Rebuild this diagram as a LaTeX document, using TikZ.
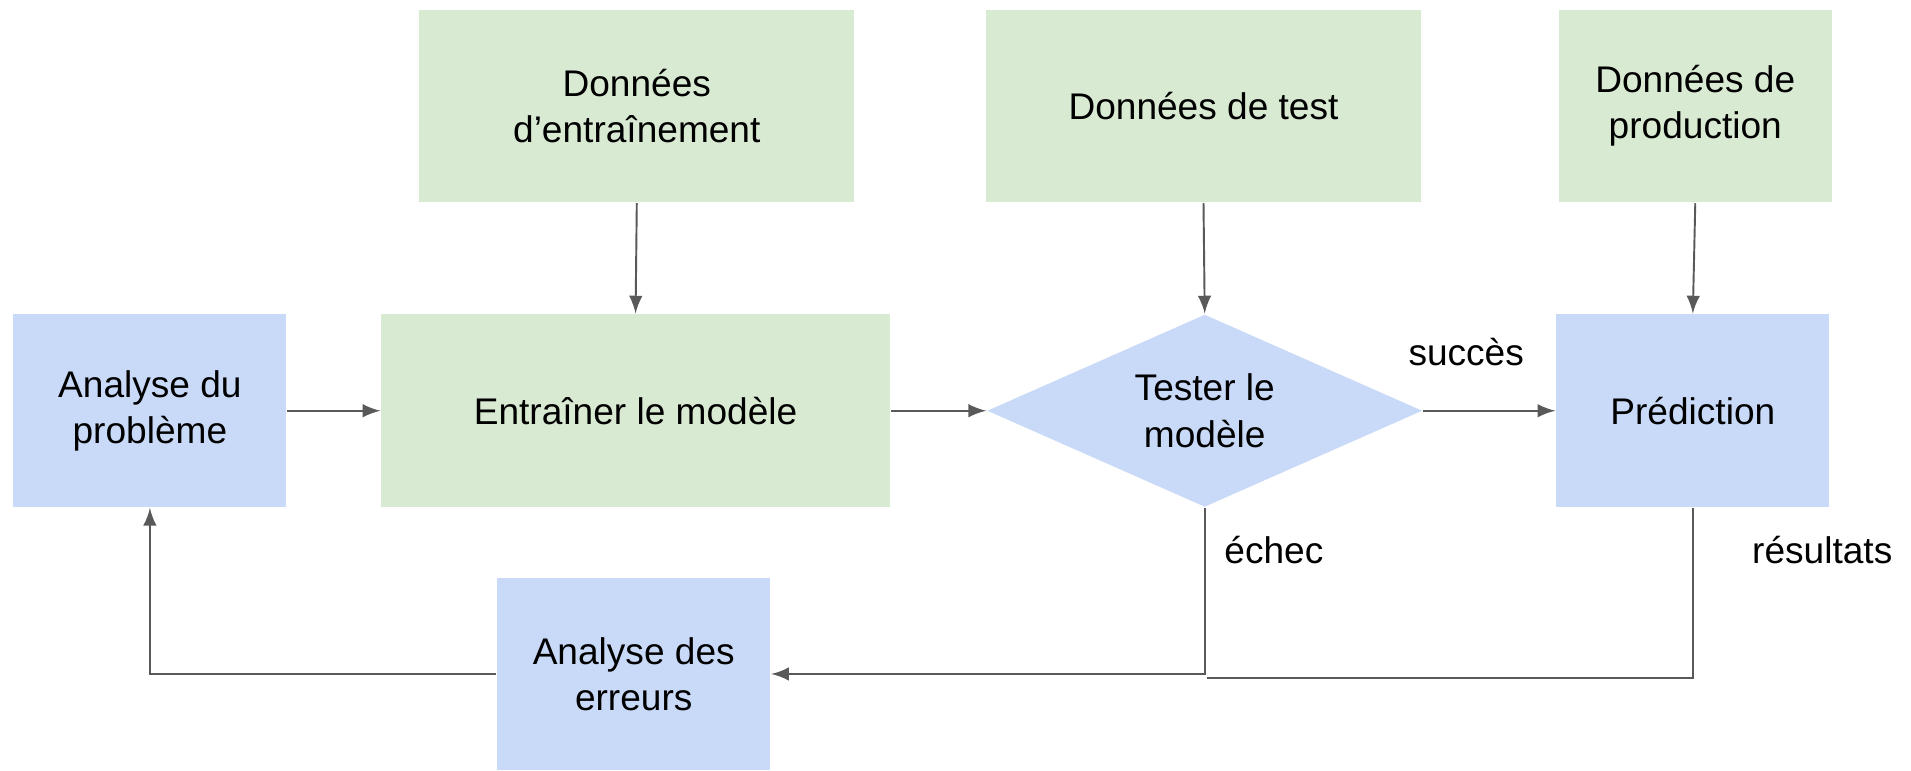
\documentclass[tikz,border=0pt]{standalone}
\usepackage{fontspec}
\setmainfont{Liberation Sans}
\usetikzlibrary{shapes.geometric}
\definecolor{vertclair}{HTML}{D9EAD3}
\definecolor{bleuclair}{HTML}{C9DAF8}
\definecolor{trait}{HTML}{595959}
\tikzset{
    texte/.style={font=\fontsize{8.65}{10.8}\selectfont, align=center, inner sep=0pt},
    donnees/.style={texte, fill=vertclair, minimum width=3.57cm, minimum height=1.58cm},
    etape/.style={texte, fill=bleuclair, minimum width=2.24cm, minimum height=1.58cm},
    decision/.style={texte, diamond, aspect=2.26, fill=bleuclair, minimum width=3.57cm, minimum height=1.58cm},
    fleche/.style={-latex, draw=trait, line width=0.45pt},
    ligne/.style={draw=trait, line width=0.45pt}
}
\begin{document}
\begin{tikzpicture}[x=0.01cm, y=-0.01cm]
            \useasboundingbox (0,0) rectangle (1568,632);

            % donnees
            \node[donnees] (dentr) at (522.5,87) {Données\\d’entraînement};
            \node[donnees] (dtest) at (987.5,87) {Données de test};
            \node[donnees, minimum width=2.24cm] (dprod) at (1391,87) {Données de\\production};

            % etapes
            \node[etape] (probleme) at (123,337) {Analyse du\\problème};
            \node[donnees, minimum width=4.17cm] (entrainer) at (521.5,337) {Entraîner le modèle};
            \node[decision] (tester) at (988.5,337) {Tester le\\modèle};
            \node[etape] (prediction) at (1389,337) {Prédiction};
            \node[etape] (erreurs) at (520,553) {Analyse des\\erreurs};

            \coordinate (jonction) at (990,556);

            \draw[fleche] (dentr.south) -- (entrainer.north);
            \draw[fleche] (dtest.south) -- (tester.north);
            \draw[fleche] (dprod.south) -- (prediction.north);

            \draw[fleche] (probleme.east) -- (entrainer.west);
            \draw[fleche] (entrainer.east) -- (tester.west);
            \draw[fleche] (tester.east) -- (prediction.west);
            \draw[fleche] (tester.south) |- (erreurs.east);
            \draw[ligne] (prediction.south) |- (jonction);
            \draw[fleche] (erreurs.west) -| (probleme.south);

            % etiquettes
            \node[texte, anchor=west] (succes) at (1155,289) {succès};
            \node[texte, anchor=west] (echec) at (1004,451) {échec};
            \node[texte, anchor=west] (resultats) at (1437,451) {résultats};
        \end{tikzpicture}
\end{document}
